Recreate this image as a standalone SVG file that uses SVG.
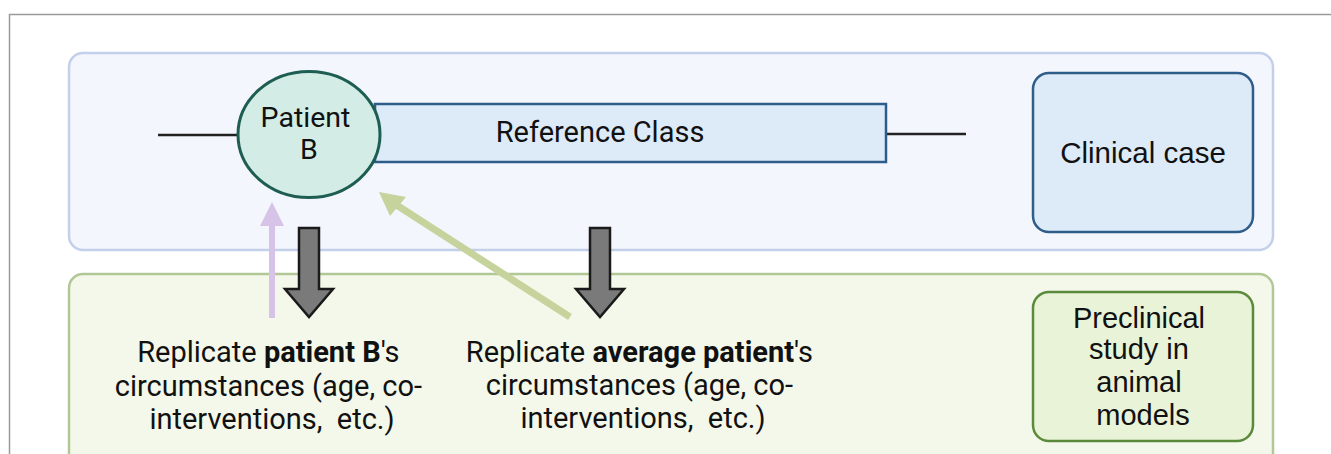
<svg xmlns="http://www.w3.org/2000/svg" width="1331" height="454" viewBox="0 0 1331 454">
  <style>
    .frame { fill: none; stroke: #9a9a9a; stroke-width: 1.5; }
    .panel-clin { fill: #f3f6fc; stroke: #c3d0ea; stroke-width: 2.5; }
    .panel-pre { fill: #f4f8ea; stroke: #b2c796; stroke-width: 2.5; }
    .tag-clin { fill: #ddeaf8; stroke: #2e5d8a; stroke-width: 2.5; }
    .tag-pre { fill: #e8f3d8; stroke: #5b8a3a; stroke-width: 2.5; }
    .refclass { fill: #ddeaf8; stroke: #2e5d8a; stroke-width: 2.5; }
    .patient { fill: #d3ece6; stroke: #1e5e52; stroke-width: 3; }
    .axis { stroke: #222; stroke-width: 2.5; fill: none; }
    .block { fill: #7a7a7a; stroke: #1a1a1a; stroke-width: 2.5; stroke-linejoin: miter; }
    .roboto { font-family: Roboto, "Liberation Sans", sans-serif; fill: #111; }
    .arial { font-family: "Liberation Sans", Arial, sans-serif; fill: #111; }
  </style>

  <!-- outer frame -->
  <path class="frame" d="M9.5,460 V14.5 H1331"/>

  <!-- background panels -->
  <g id="clinical-panel">
    <rect class="panel-clin" x="69" y="53" width="1204" height="197" rx="14"/>
  </g>
  <g id="preclinical-panel">
    <rect class="panel-pre" x="69" y="274" width="1204" height="200" rx="14"/>
  </g>

  <g id="clinical-case">
    <rect class="tag-clin" x="1033" y="73" width="220" height="159" rx="16"/>
    <text class="arial" x="1143" y="163" font-size="29.5" text-anchor="middle">Clinical case</text>
  </g>

  <g id="preclinical-study">
    <rect class="tag-pre" x="1033" y="292" width="220" height="149" rx="16"/>
    <text class="arial" font-size="29" text-anchor="middle">
      <tspan x="1143" y="328">Preclinical</tspan>
      <tspan x="1143" y="359">study in</tspan>
      <tspan x="1143" y="392">animal</tspan>
      <tspan x="1143" y="425">models</tspan>
    </text>
  </g>

  <!-- connectors -->
  <g id="connectors">
    <line class="axis" x1="158" y1="135" x2="240" y2="135"/>
    <line class="axis" x1="886" y1="134" x2="966" y2="134"/>
    <!-- patient B arrow (purple) -->
    <line x1="272" y1="318" x2="272" y2="224" stroke="#d8c3e8" stroke-width="6"/>
    <path d="M260,226 L272,202 L284,226 Z" fill="#d8c3e8"/>
    <!-- average patient arrow (green) -->
    <line x1="570" y1="317" x2="395" y2="204" stroke="#c6d39c" stroke-width="7"/>
    <path d="M379,192 L406,197 L390,216 Z" fill="#c6d39c"/>
    <!-- block arrows -->
    <path class="block" d="M299,228 H319 V289 H333 L309,317 L285,289 H299 Z"/>
    <path class="block" d="M590,228 H610 V289 H624 L600,317 L576,289 H590 Z"/>
  </g>

  <g id="reference-class">
    <rect class="refclass" x="375" y="104" width="511" height="58"/>
    <text class="roboto" x="600" y="142" font-size="29" text-anchor="middle">Reference Class</text>
  </g>

  <g id="patient-b">
    <ellipse class="patient" cx="309" cy="134.5" rx="71" ry="63"/>
    <text class="roboto" font-size="28.5" text-anchor="middle">
      <tspan x="309" y="127">Patient</tspan>
      <tspan x="309" y="159">B</tspan>
    </text>
  </g>

  <g id="replicate-patient-b">
    <text class="roboto" font-size="29" text-anchor="middle">
      <tspan x="272" y="362">Replicate <tspan font-weight="bold">patient B</tspan>'s</tspan>
      <tspan x="272" y="396">circumstances (age, co-</tspan>
      <tspan x="272" y="429" xml:space="preserve">interventions,  etc.)</tspan>
    </text>
  </g>

  <g id="replicate-average">
    <text class="roboto" font-size="29" text-anchor="middle">
      <tspan x="643" y="362">Replicate <tspan font-weight="bold">average patient</tspan>'s</tspan>
      <tspan x="643" y="395">circumstances (age, co-</tspan>
      <tspan x="643" y="428" xml:space="preserve">interventions,  etc.)</tspan>
    </text>
  </g>
</svg>
